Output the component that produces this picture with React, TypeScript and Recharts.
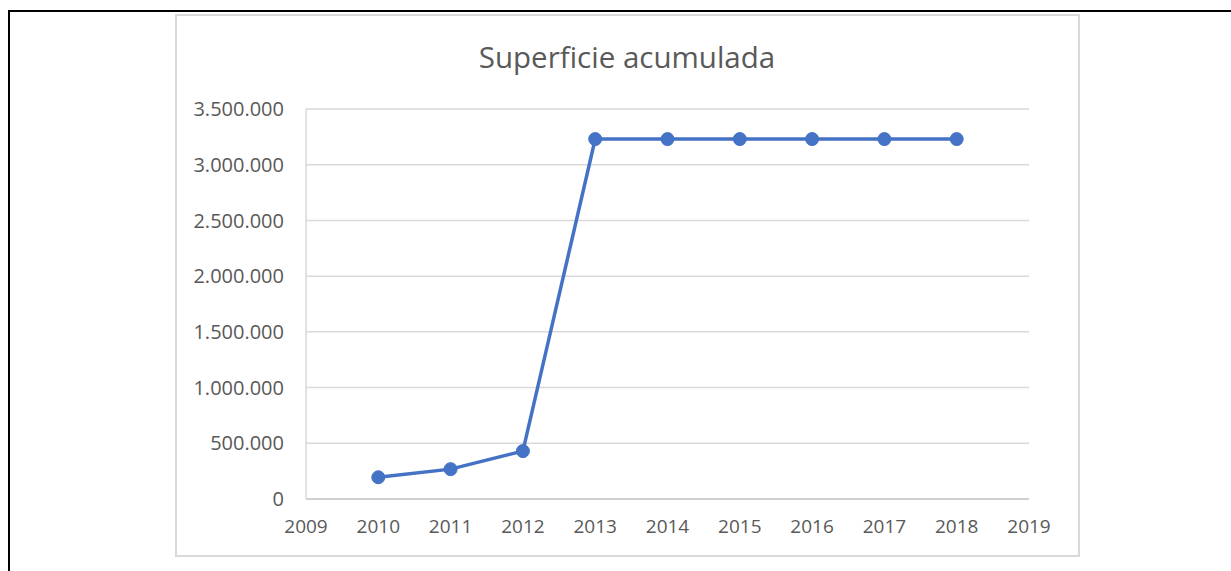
import React from 'react';
import { LineChart, Line, XAxis, YAxis, CartesianGrid } from 'recharts';

const years = [2010, 2011, 2012, 2013, 2014, 2015, 2016, 2017, 2018];
const superficie = [195000, 268000, 430000, 3230000, 3230000, 3230000, 3230000, 3230000, 3230000];
const xTicks = [2009, 2010, 2011, 2012, 2013, 2014, 2015, 2016, 2017, 2018, 2019];
const yTicks = [0, 500000, 1000000, 1500000, 2000000, 2500000, 3000000, 3500000];

const chartData = years.map((year, i) => ({ year, value: superficie[i] }));

const fmt = (v: number) => String(v).replace(/\B(?=(\d{3})+(?!\d))/g, '.');

const font = '"Open Sans", sans-serif';
const tickStyle = { fill: '#595959', fontSize: 19, fontFamily: font };

export default function App() {
  return (
    <div style={{ position: 'absolute', left: 0, top: 0, width: 1231, height: 571, background: '#fff', overflow: 'hidden' }}>
      {/* outer frame */}
      <div style={{ position: 'absolute', left: 8, top: 10, width: 1223, height: 2, background: '#000' }} />
      <div style={{ position: 'absolute', left: 8, top: 10, width: 2, height: 561, background: '#000' }} />

      {/* chart box */}
      <div
        style={{
          position: 'absolute',
          left: 175,
          top: 14,
          width: 901,
          height: 539,
          border: '2px solid #d9d9d9',
        }}
      />

      <div
        style={{
          position: 'absolute',
          left: 0,
          top: 37,
          width: 1254,
          textAlign: 'center',
          fontFamily: font,
          fontSize: 29.5,
          lineHeight: '40px',
          color: '#595959',
        }}
      >
        Superficie acumulada
      </div>

      <div style={{ position: 'absolute', left: 0, top: 0 }}>
        <LineChart width={1231} height={571} data={chartData} margin={{ top: 109, right: 202, bottom: 42, left: 226 }}>
          <CartesianGrid horizontal vertical={false} stroke="#d9d9d9" strokeWidth={1.5} />
          <XAxis
            dataKey="year"
            type="number"
            domain={[2009, 2019]}
            ticks={xTicks}
            height={30}
            tickLine={false}
            tickSize={0}
            tickMargin={21}
            axisLine={{ stroke: '#cfcfcf', strokeWidth: 2 }}
            tick={tickStyle}
            interval={0}
          />
          <YAxis
            domain={[0, 3500000]}
            ticks={yTicks}
            width={80}
            tickLine={false}
            tickSize={0}
            tickMargin={22}
            axisLine={{ stroke: '#d9d9d9', strokeWidth: 1.5 }}
            tick={{ ...tickStyle, fontSize: 20 }}
            tickFormatter={fmt}
            interval={0}
          />
          <Line
            dataKey="value"
            stroke="#4472C4"
            strokeWidth={3.5}
            dot={{ r: 6.5, fill: '#4472C4', stroke: '#4472C4', strokeWidth: 1 }}
            isAnimationActive={false}
          />
        </LineChart>
      </div>
    </div>
  );
}
